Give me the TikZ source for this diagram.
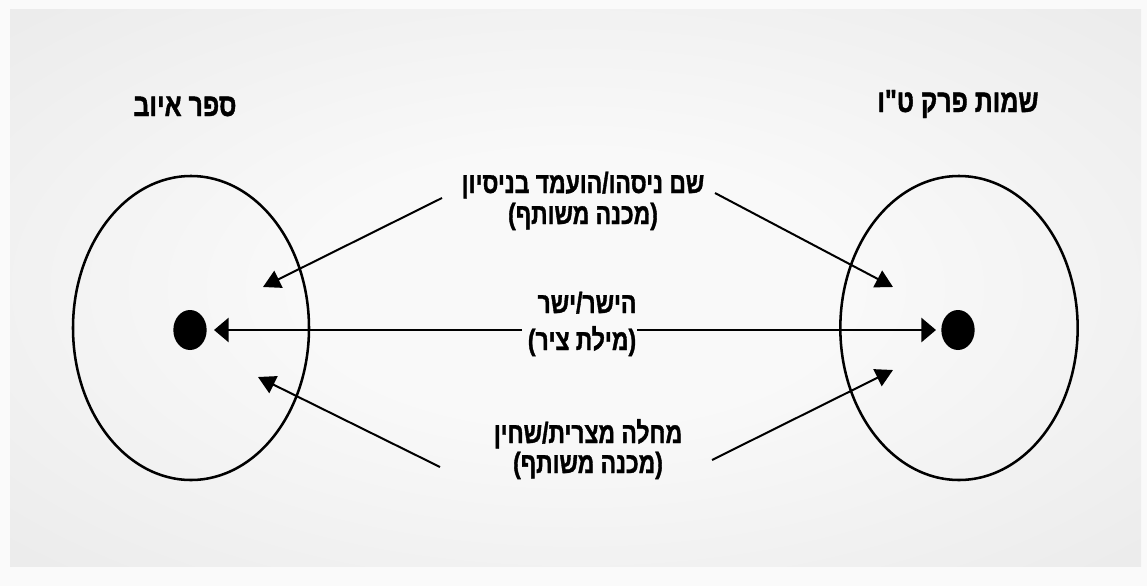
\documentclass[tikz,border=0pt]{standalone}
\usepackage{fontspec}
\setmainfont[Script=Hebrew, FakeStretch=0.78, Ligatures=TeXOff, BoldFeatures={FakeBold=1.2}]{Liberation Sans}
\TeXXeTstate=1
\usetikzlibrary{arrows.meta,shapes.geometric}
\definecolor{pageout}{HTML}{FAFAFA}
\definecolor{pcin}{HTML}{F9F9F9}
\definecolor{pcout}{HTML}{E3E3E3}
\pgfdeclareradialshading{panelshade}{\pgfpoint{0bp}{0bp}}{color(0bp)=(pcin); color(12bp)=(pcin); color(50bp)=(pcout)}
\tikzset{
  heb/.style={font=\bfseries\fontsize{22}{24}\selectfont, inner sep=0pt, anchor=base},
  title/.style={font=\bfseries\fontsize{24}{26}\selectfont, inner sep=0pt, anchor=base},
  ring/.style={draw, ellipse, line width=1.9pt, inner sep=0pt},
  dot/.style={fill, ellipse, inner sep=0pt, minimum width=25pt, minimum height=30pt},
  arr/.style={line width=1.5pt, -{Triangle[length=13pt,width=14pt]}},
  harr/.style={line width=2.2pt, -{Triangle[length=11pt,width=18pt]}}
}
\begin{document}
\begin{tikzpicture}[x=0.75pt,y=-0.75pt]
\useasboundingbox (0,0) rectangle (1147,586);
\fill[pageout] (0,0) rectangle (1147,586);
\shade[shading=panelshade] (10,9) rectangle (1141,566);

% rings and dots
\node[ring, minimum width=177pt, minimum height=228pt] (lring) at (191,328) {};
\node[ring, minimum width=178pt, minimum height=228pt] (rring) at (959,328) {};
\node[dot] (ldot) at (190,330) {};
\node[dot] (rdot) at (958,330) {};

% titles
\node[title] (ltitle) at (185,116) {\beginR ספר איוב\endR};
\node[title] (rtitle) at (958,112) {\beginR שמות פרק ט"ו\endR};

% texts
\node[heb] (t1a) at (583,193) {\beginR שם ניסהו/הועמד בניסיון\endR};
\node[heb] (t1b) at (583,224) {\beginR (מכנה משותף)\endR};
\node[heb] (t2a) at (587,313) {\beginR הישר/ישר\endR};
\node[heb] (t2b) at (582,350) {\beginR (מילת ציר)\endR};
\node[heb] (t3a) at (588,443) {\beginR מחלה מצרית/שחין\endR};
\node[heb] (t3b) at (588,473) {\beginR (מכנה משותף)\endR};

% arrow end points
\coordinate (a1s) at (442,198);
\coordinate (a1e) at (263,287);
\coordinate (a2s) at (715,193);
\coordinate (a2e) at (893,287);
\coordinate (a3s) at (440,467);
\coordinate (a3e) at (258,377);
\coordinate (a4s) at (712,460);
\coordinate (a4e) at (893,370);
\coordinate (hls) at (522,330);
\coordinate (hle) at (214,330);
\coordinate (hrs) at (637,330);
\coordinate (hre) at (936,330);

\draw[arr] (a1s) -- (a1e);
\draw[arr] (a2s) -- (a2e);
\draw[arr] (a3s) -- (a3e);
\draw[arr] (a4s) -- (a4e);
\draw[harr] (hls) -- (hle);
\draw[harr] (hrs) -- (hre);
\end{tikzpicture}
\end{document}
